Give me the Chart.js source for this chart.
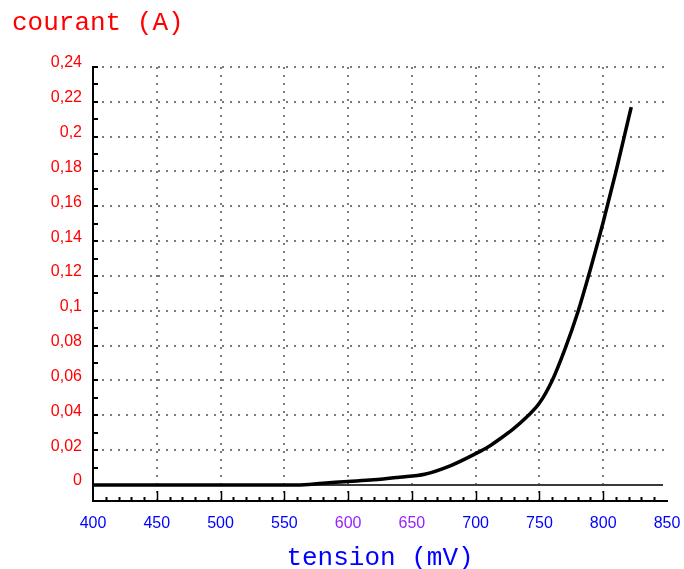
<!DOCTYPE html>
<html>
<head>
<meta charset="utf-8">
<title>courant (A) / tension (mV)</title>
<script src="https://cdn.jsdelivr.net/npm/chart.js@4.4.1/dist/chart.umd.min.js"></script>
<style>
  body { margin: 0; background: #ffffff; }
  canvas { display: block; }
</style>
</head>
<body>
<canvas id="diodeChart" width="684" height="569"></canvas>
<script>
// tension (mV) et courant (A)
const tension = [400, 560, 580, 600, 620, 640, 660, 680, 700, 710, 720, 730, 740, 750, 760, 770, 780, 790, 800, 810, 820, 822];
const courant = [0, 0, 0.001, 0.002, 0.003, 0.0045, 0.0062, 0.011, 0.018, 0.022, 0.027, 0.0325, 0.039, 0.047, 0.06, 0.078, 0.099, 0.124, 0.151, 0.18, 0.211, 0.217];

const xTicks = [400, 450, 500, 550, 600, 650, 700, 750, 800, 850];
const yTicks = [0, 0.02, 0.04, 0.06, 0.08, 0.1, 0.12, 0.14, 0.16, 0.18, 0.2, 0.22, 0.24];

const RED = "#ff0000";
const BLUE = "#0000ff";
const PURPLE = "#9a22ff";

function formatComma(v) {
  return String(v).replace(".", ",");
}

// zero line + small ticks inside the axes
const axisDecor = {
  id: "axisDecor",
  beforeDatasetsDraw(chart) {
    const {ctx, chartArea, scales: {x, y}} = chart;
    ctx.save();
    // ligne du zero
    const y0 = Math.round(y.getPixelForValue(0));
    ctx.strokeStyle = "#3a3a3a";
    ctx.lineWidth = 2;
    ctx.beginPath();
    ctx.moveTo(chartArea.left, y0);
    ctx.lineTo(chartArea.right - 4, y0);
    ctx.stroke();

    ctx.strokeStyle = "#000";
    ctx.lineWidth = 2;
    // y ticks every 0.01
    for (let i = 1; i <= 24; i++) {
      const py = Math.round(y.getPixelForValue(i / 100));
      ctx.beginPath();
      ctx.moveTo(chartArea.left, py);
      ctx.lineTo(chartArea.left + 5, py);
      ctx.stroke();
    }
    // x ticks every 10 mV
    for (let v = 410; v < 850; v += 10) {
      const px = Math.round(x.getPixelForValue(v)) + 0.5;
      const len = v % 50 === 0 ? 10 : 4;
      ctx.lineWidth = v % 50 === 0 ? 1.5 : 2;
      ctx.beginPath();
      ctx.moveTo(px, chartArea.bottom);
      ctx.lineTo(px, chartArea.bottom - len);
      ctx.stroke();
    }
    ctx.restore();
  }
};

function createDiodeChart(element) {
  const ctx = document.getElementById(element).getContext("2d");
  const points = tension.map((t, i) => ({x: t, y: courant[i]}));

  return new Chart(ctx, {
    type: "line",
    data: {
      datasets: [
        {
          label: "courant",
          data: points,
          borderColor: "#000000",
          borderWidth: 3.5,
          pointRadius: 0,
          fill: false,
          cubicInterpolationMode: "monotone",
        },
      ],
    },
    options: {
      responsive: false,
      animation: false,
      layout: {
        padding: {left: 12, right: 17, top: 0, bottom: 0},
      },
      plugins: {
        legend: {display: false},
        tooltip: {enabled: false},
        title: {
          display: true,
          text: "courant (A)",
          align: "start",
          color: RED,
          font: {family: "'Liberation Mono', 'Courier New', monospace", size: 26, weight: "normal"},
          padding: {top: 7.4, bottom: 28.4},
        },
      },
      scales: {
        x: {
          type: "linear",
          min: 400,
          max: 850,
          afterBuildTicks: (scale) => {
            scale.ticks = xTicks.map((v) => ({value: v}));
          },
          afterFit: (scale) => {
            scale.height = 68;
          },
          grid: {
            drawTicks: true,
            tickLength: 13,
            tickColor: "rgba(0,0,0,0)",
            lineWidth: 2,
            color: (c) => (c.tick && (c.tick.value === 400 || c.tick.value === 850) ? "rgba(0,0,0,0)" : "#7a7a7a"),
          },
          border: {display: true, color: "#000", width: 2, dash: [2, 6]},
          ticks: {
            padding: 0,
            color: (c) => (c.tick && (c.tick.value === 600 || c.tick.value === 650) ? PURPLE : BLUE),
            font: {family: "'Liberation Sans', Arial, sans-serif", size: 16},
            maxRotation: 0,
          },
          title: {
            display: true,
            text: "tension (mV)",
            color: BLUE,
            font: {family: "'Liberation Mono', 'Courier New', monospace", size: 26, weight: "normal", lineHeight: "21px"},
            padding: 0,
          },
        },
        y: {
          min: -0.0092,
          max: 0.24,
          afterBuildTicks: (scale) => {
            scale.ticks = yTicks.map((v) => ({value: v}));
          },
          afterFit: (scale) => {
            scale.width = 81;
          },
          grid: {
            drawTicks: false,
            lineWidth: 2,
            color: (c) => (c.tick && c.tick.value === 0 ? "rgba(0,0,0,0)" : "#7a7a7a"),
          },
          border: {display: true, color: "#000", width: 2, dash: [2, 6]},
          ticks: {
            padding: 11,
            color: RED,
            // second empty line lifts the label a little above its grid line
            callback: (v) => [formatComma(v), ""],
            font: {family: "'Liberation Sans', Arial, sans-serif", size: 16, lineHeight: "8px"},
          },
        },
      },
    },
    plugins: [axisDecor],
  });
}

createDiodeChart("diodeChart");
</script>
</body>
</html>
